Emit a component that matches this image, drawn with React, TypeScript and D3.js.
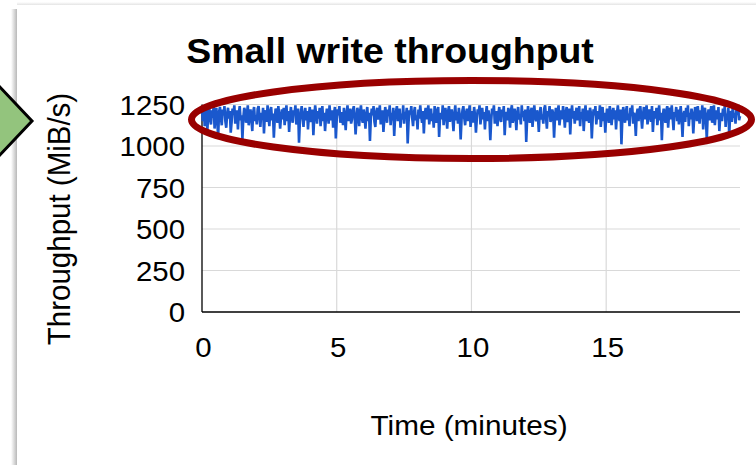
import React, { useEffect, useRef } from 'react'
import * as d3 from 'd3'

// throughput samples, one every 2 seconds (MiB/s)
const throughput = [
  1210, 1150, 1235, 1120, 1180, 1225, 1095, 1200, 1240, 1160,
  1130, 1215, 1170, 1245, 1105, 1190, 1230, 1140, 1060, 1205,
  1235, 1175, 1125, 1220, 1185, 1240, 1150, 1110, 1195, 1230,
  1165, 1210, 1080, 1145, 1225, 1190, 1245, 1135, 1175, 1215,
  1100, 1200, 1240, 1155, 1185, 1040, 1170, 1230, 1210, 1140,
  1195, 1245, 1125, 1180, 1220, 1160, 1090, 1205, 1235, 1150,
  1185, 1130, 1225, 1240, 1170, 1115, 1200, 1160, 1230, 1075,
  1190, 1215, 1145, 1245, 1180, 1120, 1210, 1235, 1155, 1195,
  1050, 1165, 1225, 1200, 1140, 1240, 1185, 1105, 1175, 1220,
  1160, 1230, 1125, 1190, 1245, 1150, 1210, 1085, 1180, 1235,
  1170, 1140, 1215, 1195, 1245, 1130, 1160, 1225, 1020, 1150,
  1200, 1240, 1175, 1115, 1190, 1230, 1155, 1210, 1100, 1185,
  1235, 1145, 1180, 1220, 1065, 1175, 1245, 1195, 1135, 1210,
  1165, 1230, 1120, 1185, 1240, 1150, 1200, 1090, 1170, 1225,
  1190, 1135, 1245, 1180, 1155, 1215, 1110, 1195, 1235, 1045,
  1160, 1220, 1185, 1240, 1140, 1175, 1205, 1125, 1230, 1170,
  1095, 1200, 1245, 1150, 1185, 1225, 1135, 1160, 1215, 1240,
  1180, 1070, 1155, 1230, 1195, 1120, 1210, 1245, 1165, 1140,
  1220, 1175, 1105, 1190, 1235, 1150, 1200, 1030, 1170, 1225,
  1185, 1240, 1145, 1115, 1205, 1230, 1160, 1195, 1245, 1130,
  1175, 1215, 1085, 1165, 1235, 1190, 1140, 1220, 1180, 1245,
  1125, 1200, 1155, 1230, 1060, 1175, 1210, 1240, 1150, 1185,
  1225, 1110, 1195, 1160, 1245, 1135, 1205, 1180, 1230, 1015,
  1145, 1215, 1190, 1240, 1170, 1120, 1200, 1235, 1155, 1185,
  1100, 1220, 1165, 1245, 1180, 1140, 1210, 1075, 1190, 1230,
  1160, 1205, 1245, 1130, 1175, 1225, 1150, 1195, 1110, 1240,
  1185, 1140, 1215, 1235, 1055, 1170, 1200, 1160, 1245, 1125,
  1190, 1230, 1175, 1105, 1210, 1240, 1145, 1185, 1220, 1165,
  1090, 1195, 1245, 1155, 1205, 1135, 1230, 1180, 1040, 1160,
  1215, 1240, 1170, 1125, 1200, 1225, 1150, 1190, 1245, 1115,
  1175, 1210, 1140, 1235, 1185, 1080, 1165, 1220, 1195, 1245,
  1130, 1180, 1230, 1160, 1205, 1100, 1190, 1240, 1150, 1215,
  1170, 1035, 1155, 1225, 1200, 1245, 1135, 1185, 1210, 1120,
  1195, 1235, 1165, 1145, 1220, 1180, 1240, 1065, 1175, 1205,
  1155, 1230, 1190, 1110, 1215, 1245, 1140, 1170, 1225, 1185,
  1095, 1200, 1235, 1160, 1190, 1130, 1245, 1175, 1210, 1150,
  1220, 1025, 1165, 1240, 1185, 1140, 1205, 1230, 1115, 1195,
  1245, 1170, 1150, 1215, 1180, 1085, 1200, 1235, 1160, 1190,
  1135, 1225, 1245, 1175, 1105, 1210, 1185, 1240, 1145, 1165,
  1220, 1195, 1050, 1170, 1230, 1155, 1205, 1245, 1125, 1180,
  1215, 1160, 1240, 1190, 1110, 1200, 1235, 1145, 1175, 1225,
  1070, 1185, 1245, 1165, 1210, 1135, 1195, 1230, 1155, 1180,
  1240, 1120, 1205, 1170, 1225, 1090, 1190, 1245, 1150, 1215,
  1175, 1140, 1230, 1200, 1045, 1165, 1220, 1185, 1240, 1130,
  1195, 1210, 1160, 1245, 1115, 1180, 1235, 1150, 1200, 1080,
  1170, 1225, 1190, 1140, 1240, 1205, 1125, 1185, 1230, 1160,
  1215, 1100, 1195, 1245, 1175, 1150, 1220, 1010, 1165, 1235,
  1185, 1140, 1210, 1240, 1155, 1195, 1120, 1230, 1180, 1245,
  1135, 1200, 1165, 1060, 1190, 1225, 1150, 1215, 1240, 1175,
  1105, 1185, 1235, 1160, 1205, 1245, 1130, 1170, 1220, 1195,
  1145, 1240, 1085, 1180, 1210, 1165, 1230, 1125, 1190, 1245,
  1155, 1200, 1035, 1175, 1225, 1185, 1140, 1215, 1240, 1110,
  1195, 1230, 1160, 1245, 1170, 1095, 1205, 1180, 1235, 1150,
  1220, 1130, 1190, 1240, 1165, 1055, 1185, 1210, 1145, 1230,
  1175, 1245, 1120, 1200, 1160, 1225, 1190, 1075, 1170, 1235,
  1210, 1150, 1240, 1185, 1135, 1215, 1165, 1245, 1100, 1195,
  1230, 1170, 1040, 1180, 1220, 1155, 1205, 1240, 1140, 1185,
  1245, 1125, 1190, 1215, 1160, 1235, 1090, 1175, 1200, 1150,
  1225, 1180, 1240, 1115, 1195, 1165, 1230, 1060, 1185, 1210,
  1145, 1245, 1170, 1200, 1135, 1220, 1190, 1240, 1155, 1180,
]
const sampleSeconds = 2
const xTicks = [0, 5, 10, 15]
const yTicks = [0, 250, 500, 750, 1000, 1250]

const title = 'Small write throughput'
const xTitle = 'Time (minutes)'
const yTitle = 'Throughput (MiB/s)'

export default function App(): React.ReactElement {
  const ref = useRef<HTMLDivElement>(null)

  useEffect(() => {
    const width = 756
    const height = 465
    const left = 202
    const right = 740
    const top = 104.5
    const bottom = 312
    const font = '"Liberation Sans", Arial, sans-serif'
    const stretch = 1.07

    const data = throughput.map((v, i) => ({ t: (i * sampleSeconds) / 60, v }))

    const x = d3
      .scaleLinear()
      .domain([0, d3.max(data, (d) => d.t)!])
      .range([left, right])
    const y = d3.scaleLinear().domain([0, 1250]).range([bottom, top])

    d3.select(ref.current).select('svg').remove()

    const svg = d3
      .select(ref.current)
      .append('svg')
      .attr('width', width)
      .attr('height', height)
      .attr('style', 'position:absolute;left:0;top:0;background:#fff')

    // card shadow
    const defs = svg.append('defs')
    const grad = defs
      .append('linearGradient')
      .attr('id', 'shadowL')
      .attr('x1', 0)
      .attr('x2', 1)
    grad.append('stop').attr('offset', 0).attr('stop-color', '#fff')
    grad.append('stop').attr('offset', 1).attr('stop-color', '#b8b8b8')
    const gradT = defs
      .append('linearGradient')
      .attr('id', 'shadowT')
      .attr('x1', 0)
      .attr('x2', 0)
      .attr('y1', 0)
      .attr('y2', 1)
    gradT.append('stop').attr('offset', 0).attr('stop-color', '#fff')
    gradT.append('stop').attr('offset', 1).attr('stop-color', '#e4e4e4')

    svg.append('rect').attr('x', 11).attr('y', 9).attr('width', 6).attr('height', height).attr('fill', 'url(#shadowL)')
    svg.append('rect').attr('x', 17).attr('y', 2).attr('width', width).attr('height', 3).attr('fill', 'url(#shadowT)')
    svg.append('rect').attr('x', 17).attr('y', 5).attr('width', width).attr('height', height).attr('fill', '#fff')

    // green arrow head at left edge
    svg
      .append('polygon')
      .attr('points', '-30,98 -3,98 -3,84 32,121 -3,158 -3,144 -30,144')
      .attr('fill', '#93c47d')
      .attr('stroke', '#000')
      .attr('stroke-width', 3)
      .attr('stroke-linejoin', 'miter')

    // gridlines
    svg
      .append('g')
      .selectAll('line')
      .data(yTicks.filter((d) => d > 0))
      .join('line')
      .attr('x1', left)
      .attr('x2', right)
      .attr('y1', (d) => y(d))
      .attr('y2', (d) => y(d))
      .attr('stroke', '#d9d9d9')
      .attr('stroke-width', 1.2)
    svg
      .append('g')
      .selectAll('line')
      .data(xTicks.filter((d) => d > 0))
      .join('line')
      .attr('x1', (d) => x(d))
      .attr('x2', (d) => x(d))
      .attr('y1', top)
      .attr('y2', bottom)
      .attr('stroke', '#d9d9d9')
      .attr('stroke-width', 1.2)

    // axis lines
    svg.append('line').attr('x1', left).attr('x2', left).attr('y1', top).attr('y2', bottom).attr('stroke', '#000').attr('stroke-width', 1.3)
    svg.append('line').attr('x1', left).attr('x2', right).attr('y1', bottom).attr('y2', bottom).attr('stroke', '#000').attr('stroke-width', 1.3)

    // series
    const line = d3
      .line<{ t: number; v: number }>()
      .x((d) => x(d.t))
      .y((d) => y(d.v))
    svg
      .append('path')
      .datum(data)
      .attr('d', line)
      .attr('fill', 'none')
      .attr('stroke', '#1a58cd')
      .attr('stroke-width', 2.6)
      .attr('stroke-linejoin', 'miter')
      .attr('stroke-miterlimit', 3)

    // tick labels
    svg
      .append('g')
      .selectAll('text')
      .data(yTicks)
      .join('text')
      .attr('transform', (d) => `translate(185,${y(d) + 10}) scale(${stretch},1)`)
      .attr('text-anchor', 'end')
      .attr('font-family', font)
      .attr('font-size', 27.5)
      .attr('fill', '#000')
      .text((d) => d)
    svg
      .append('g')
      .selectAll('text')
      .data(xTicks)
      .join('text')
      .attr('transform', (d) => `translate(${x(d) + 1.5},357) scale(${stretch},1)`)
      .attr('text-anchor', 'middle')
      .attr('font-family', font)
      .attr('font-size', 27.5)
      .attr('fill', '#000')
      .text((d) => d)

    // titles
    svg
      .append('text')
      .attr('transform', `translate(390,63) scale(${stretch},1)`)
      .attr('text-anchor', 'middle')
      .attr('font-family', font)
      .attr('font-weight', 'bold')
      .attr('font-size', 35)
      .attr('fill', '#000')
      .text(title)
    svg
      .append('text')
      .attr('transform', `translate(469,435) scale(${stretch},1)`)
      .attr('text-anchor', 'middle')
      .attr('font-family', font)
      .attr('font-size', 27.8)
      .attr('fill', '#000')
      .text(xTitle)
    svg
      .append('text')
      .attr('transform', `translate(70,219) scale(${stretch},1) rotate(-90)`)
      .attr('text-anchor', 'middle')
      .attr('font-family', font)
      .attr('font-size', 29.5)
      .attr('fill', '#000')
      .text(yTitle)

    // highlight ellipse
    svg
      .append('ellipse')
      .attr('cx', 471.5)
      .attr('cy', 119.5)
      .attr('rx', 280)
      .attr('ry', 39)
      .attr('fill', 'none')
      .attr('stroke', '#990000')
      .attr('stroke-width', 7)
  }, [])

  return <div ref={ref}></div>
}
